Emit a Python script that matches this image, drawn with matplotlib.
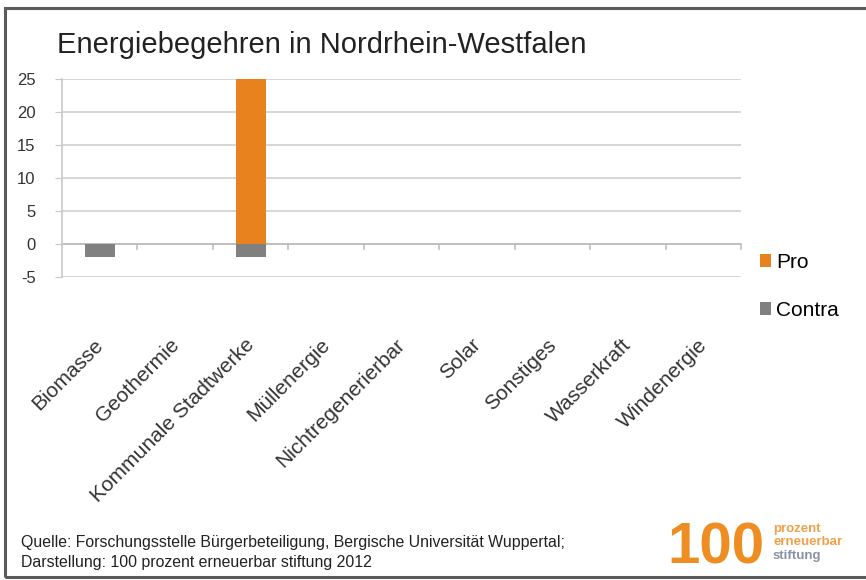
import matplotlib
matplotlib.use('Agg')
import matplotlib.pyplot as plt
from matplotlib.patches import Rectangle
from matplotlib.transforms import ScaledTranslation

# Daten
categories = ['Biomasse', 'Geothermie', 'Kommunale Stadtwerke', 'Müllenergie',
              'Nichtregenerierbar', 'Solar', 'Sonstiges', 'Wasserkraft', 'Windenergie']
pro = [0, 0, 25, 0, 0, 0, 0, 0, 0]
contra = [-2, 0, -2, 0, 0, 0, 0, 0, 0]
yticks = [-5, 0, 5, 10, 15, 20, 25]

orange = '#E8821E'
grau = '#808080'

plt.rcParams['font.family'] = ['Liberation Sans', 'DejaVu Sans']

fig = plt.figure(figsize=(8.66, 5.8), dpi=100)
W, H = 866, 580

# Rahmen um das Bild
fig.patches.append(Rectangle((5 / W, 1 - 577 / H), 900 / W, (577 - 8) / H,
                             transform=fig.transFigure, fill=False,
                             edgecolor='#5a5a5a', lw=2.2))

ax = fig.add_axes([62 / W, 1 - 277 / H, 679 / W, 198 / H])
x = list(range(len(categories)))
ax.bar(x, pro, width=0.4, color=orange, label='Pro', zorder=3)
ax.bar(x, contra, width=0.4, color=grau, label='Contra', zorder=3)

ax.set_xlim(-0.5, len(categories) - 0.5)
ax.set_ylim(-5, 25)
ax.set_yticks(yticks)
ax.set_yticklabels([str(v) for v in yticks], fontsize=12, color='#333333')
ax.yaxis.grid(True, color='#d0d0d0', lw=1.2, zorder=0)
ax.axhline(0, color='#bdbdbd', lw=1.3, zorder=2)

for s in ['top', 'right', 'bottom']:
    ax.spines[s].set_visible(False)
ax.spines['left'].set_color('#c8c8c8')
ax.spines['left'].set_linewidth(1.2)
ax.tick_params(axis='y', length=5, color='#c8c8c8', pad=14)

# Teilstriche zwischen den Kategorien an der Nulllinie
for b in [i + 0.5 for i in x]:
    ax.plot([b, b], [0, -0.75], color='#bdbdbd', lw=1.2, zorder=2, clip_on=False)

ax.set_xticks(x)
ax.set_xticklabels(categories, fontsize=15, color='#333333', rotation=45,
                   ha='right', va='top', rotation_mode='anchor')
ax.tick_params(axis='x', length=0, pad=42)
for lab in ax.get_xticklabels():
    lab.set_transform(lab.get_transform() + ScaledTranslation(-6 / 100, 0, fig.dpi_scale_trans))

fig.text(57 / W, 1 - 45 / H, 'Energiebegehren in Nordrhein-Westfalen',
         fontsize=21, color='#222222', va='center', ha='left')

fig.legend(loc='upper left', bbox_to_anchor=(741 / W, 1 - 234 / H), frameon=False,
           fontsize=15, handlelength=0.55, handleheight=0.55, handletextpad=0.25,
           labelspacing=1.4)

fig.text(21 / W, 1 - 543 / H,
         'Quelle: Forschungsstelle Bürgerbeteiligung, Bergische Universität Wuppertal;',
         fontsize=11.4, color='#222222', va='center')
fig.text(21 / W, 1 - 562 / H, 'Darstellung: 100 prozent erneuerbar stiftung 2012',
         fontsize=11.4, color='#222222', va='center')

# Logo
fig.text(667 / W, 1 - 563 / H, '100', fontsize=42, fontweight='bold',
         color='#EE8E22', va='baseline', ha='left')
fig.text(773 / W, 1 - 529 / H, 'prozent', fontsize=9.5, fontweight='bold',
         color='#F0A048', va='center')
fig.text(773 / W, 1 - 542 / H, 'erneuerbar', fontsize=9.5, fontweight='bold',
         color='#F0A048', va='center')
fig.text(773 / W, 1 - 556 / H, 'stiftung', fontsize=9.5, fontweight='bold',
         color='#8a90a8', va='center')

fig.savefig('out.png', dpi=100)
